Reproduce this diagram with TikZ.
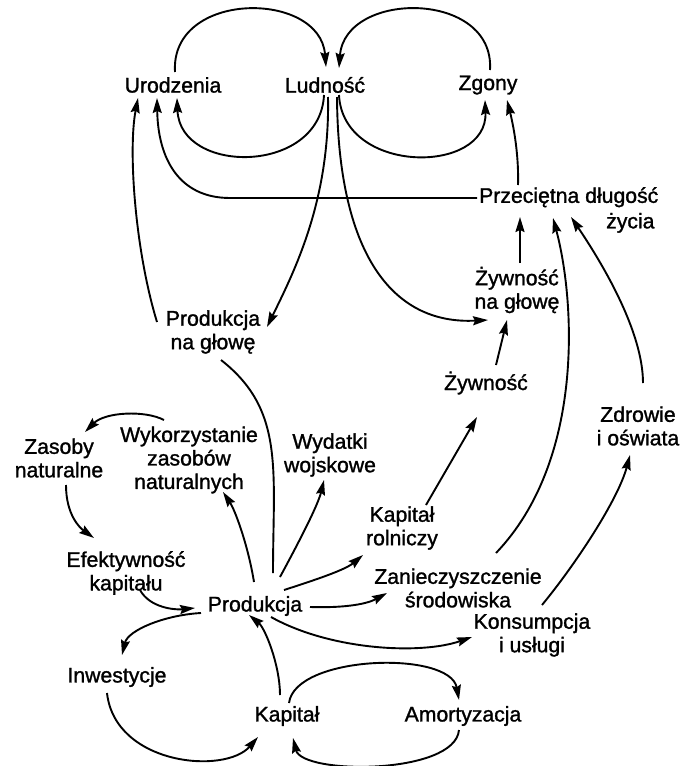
\documentclass[tikz,border=0pt]{standalone}
\usepackage{fontspec}
\setmainfont{Liberation Sans}[FakeBold=1.3]
\usetikzlibrary{arrows.meta,calc}
\begin{document}
\begin{tikzpicture}[x=1pt,y=-1pt,
  lbl/.style={inner sep=0pt, align=center, font=\fontsize{21.2}{23.5}\selectfont},
  arr/.style={-{Stealth[length=15pt,width=9pt,inset=2pt]}, line width=1.9pt},
  ln/.style={line width=1.9pt}]
\useasboundingbox (0,0) rectangle (682,766);
\node[lbl] (U) at (173,85) {Urodzenia};
\node[lbl] (L) at (325,85) {Ludność};
\node[lbl] (Z) at (488,85) {Zgony};
\node[lbl, anchor=west, align=left] (P) at (479,210) {Przeciętna długość\\[2pt]\hspace*{127pt}życia};
\node[lbl] (ZG) at (517,290) {Żywność\\na głowę};
\node[lbl] (PG) at (213,332) {Produkcja\\na głowę};
\node[lbl] (Z2) at (486,383) {Żywność};
\node[lbl] (ZD) at (638,426) {Zdrowie\\i oświata};
\node[lbl] (ZN) at (59,458) {Zasoby\\naturalne};
\node[lbl] (WZ) at (189,460) {Wykorzystanie\\zasobów\\naturalnych};
\node[lbl] (WW) at (330,455) {Wydatki\\wojskowe};
\node[lbl] (KR) at (402,528) {Kapitał\\rolniczy};
\node[lbl] (EK) at (126,573) {Efektywność\\kapitału};
\node[lbl] (ZS) at (458,588) {Zanieczyszczenie\\środowiska};
\node[lbl] (PR) at (255,606) {Produkcja};
\node[lbl] (KU) at (532,635) {Konsumpcja\\i usługi};
\node[lbl] (IN) at (117,677) {Inwestycje};
\node[lbl] (KA) at (287,716) {Kapitał};
\node[lbl] (AM) at (463,716) {Amortyzacja};

\draw[arr] ($(U)+(2,-13)$) .. controls (170,-10) and (320,-10) .. ($(L)+(1,-18)$);
\draw[arr] ($(Z)+(2,-15)$) .. controls (495,-10) and (345,-10) .. ($(L)+(14,-17)$);
\draw[arr] ($(L)+(-1,10)$) .. controls (320,175) and (180,175) .. ($(U)+(4,13)$);
\draw[arr] ($(L)+(14,10)$) .. controls (343,175) and (488,175) .. ($(Z)+(-3,15)$);
\draw[arr] ($(L)+(3,12)$) .. controls (330,200) and (295,270) .. ($(PG)+(54,-5)$);
\draw[arr] ($(L)+(12,12)$) .. controls (338,250) and (390,325) .. ($(ZG)+(-29,30)$);
\draw[arr] ($(P.west)+(-2,-12)$) -- (230,198) .. controls (180,198) and (158,160) .. ($(U)+(-16,13)$);
\draw[arr] ($(P.west)+(39,-25)$) .. controls (519,150) and (512,120) .. ($(Z)+(19,15)$);
\draw[arr] ($(ZG)+(3,-27)$) -- ($(P.west)+(41,7)$);
\draw[arr] ($(ZS)+(38,-35)$) .. controls (585,460) and (575,300) .. ($(P.west)+(74,8)$);
\draw[arr] ($(ZD)+(5,-43)$) .. controls (643,330) and (600,260) .. ($(P.west)+(92,7)$);
\draw[arr] ($(Z2)+(10,-18)$) -- ($(ZG)+(-10,30)$);
\draw[arr] ($(KR)+(24,-23)$) -- ($(Z2)+(-9,34)$);
\draw[arr] ($(KU)+(10,-30)$) .. controls (575,565) and (618,500) .. ($(ZD)+(-8,29)$);
\draw[arr] ($(PR)+(16,11)$) .. controls (330,650) and (420,655) .. ($(KU)+(-60,2)$);
\draw[arr] ($(PR)+(55,1)$) .. controls (340,608) and (365,605) .. ($(ZS)+(-71,5)$);
\draw[arr] ($(PR)+(29,-16)$) .. controls (315,580) and (345,570) .. ($(KR)+(-39,27)$);
\draw[arr] ($(PR)+(25,-29)$) .. controls (300,540) and (318,505) .. ($(WW)+(-6,25)$);
\draw[arr] ($(PR)+(-1,-24)$) .. controls (248,545) and (235,510) .. ($(WZ)+(34,32)$);
\draw[ln] ($(PG)+(8,28)$) .. controls (285,410) and (273,470) .. ($(PR)+(18,-33)$);
\draw[arr] ($(PG)+(-56,-10)$) .. controls (135,250) and (128,150) .. ($(U)+(-35,13)$);
\draw[arr] ($(WZ)+(-25,-40)$) .. controls (145,410) and (105,412) .. ($(ZN)+(26,-26)$);
\draw[arr] ($(ZN)+(7,27)$) .. controls (66,515) and (80,528) .. ($(EK)+(-32,-35)$);
\draw[arr] ($(EK)+(14,17)$) .. controls (150,608) and (175,610) .. ($(PR)+(-60,2)$);
\draw[arr] ($(PR)+(-54,7)$) .. controls (165,615) and (128,630) .. ($(IN)+(5,-22)$);
\draw[arr] ($(IN)+(-10,16)$) .. controls (115,765) and (225,775) .. ($(KA)+(-29,21)$);
\draw[arr] ($(KA)+(-7,-21)$) .. controls (280,665) and (265,628) .. ($(PR)+(-6,9)$);
\draw[arr] ($(KA)+(2,-13)$) .. controls (295,655) and (450,650) .. ($(AM)+(-4,-16)$);
\draw[arr] ($(AM)+(-4,14)$) .. controls (455,775) and (302,775) .. ($(KA)+(6,22)$);
\end{tikzpicture}
\end{document}
